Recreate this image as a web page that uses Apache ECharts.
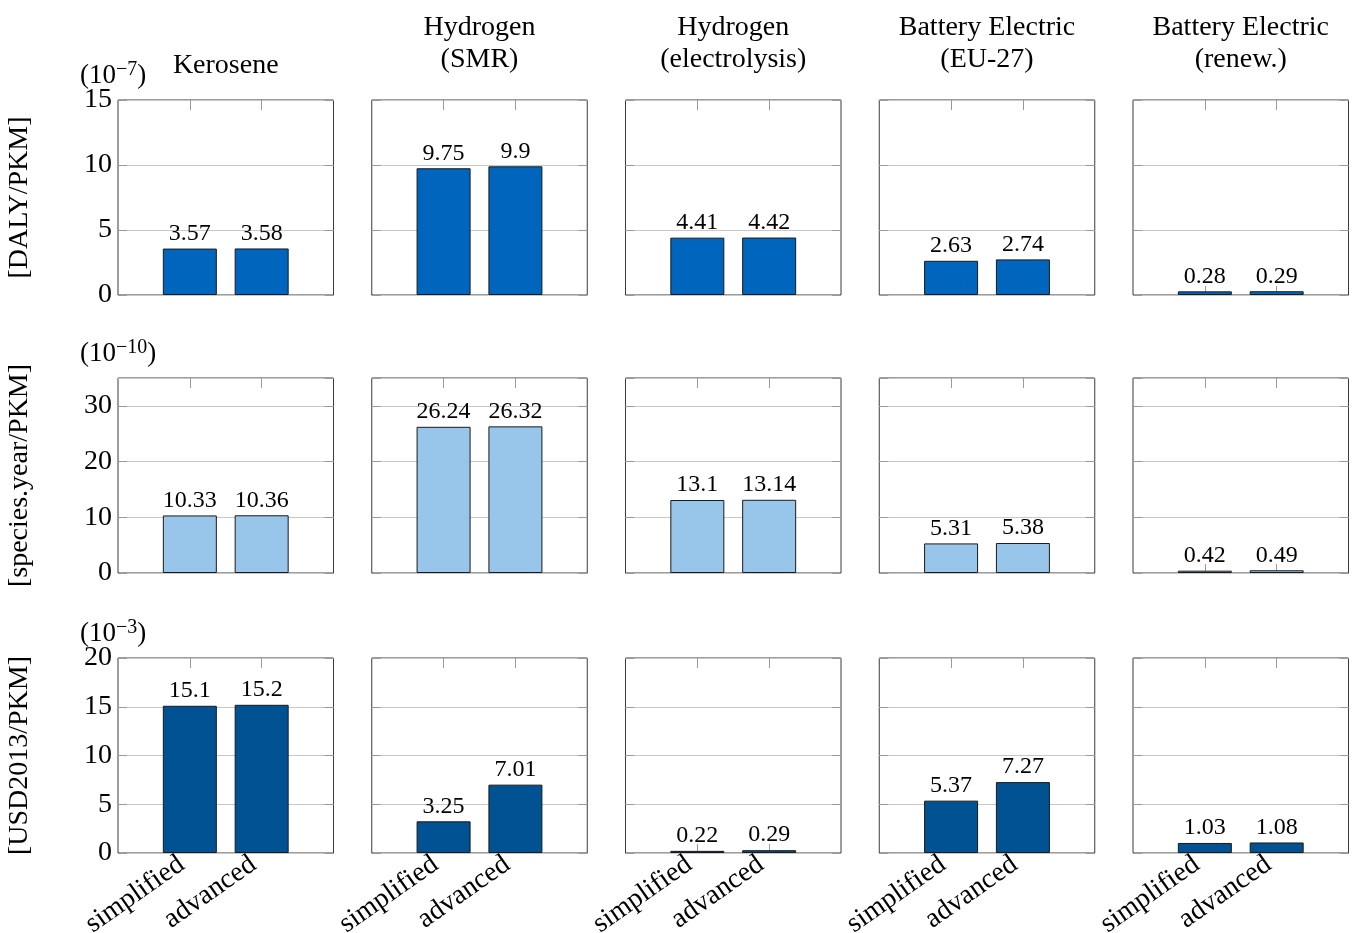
<!DOCTYPE html>
<html>
<head>
<meta charset="utf-8">
<title>Impact per passenger-km by propulsion option</title>
<script src="https://cdn.jsdelivr.net/npm/echarts@6/dist/echarts.min.js"></script>
<style>
  html, body { margin: 0; padding: 0; background: #fff; }
  #chart { width: 1352px; height: 933px; }
</style>
</head>
<body>
<div id="chart"></div>
<script>
// ---- data ----
const methods = ['simplified', 'advanced'];
const options = [
  ['Kerosene'],
  ['Hydrogen', '(SMR)'],
  ['Hydrogen', '(electrolysis)'],
  ['Battery Electric', '(EU-27)'],
  ['Battery Electric', '(renew.)']
];
// human health damage, 10^-7 DALY/PKM
const healthValues = [[3.57, 3.58], [9.75, 9.9], [4.41, 4.42], [2.63, 2.74], [0.28, 0.29]];
// ecosystem damage, 10^-10 species.year/PKM
const ecosystemValues = [[10.33, 10.36], [26.24, 26.32], [13.1, 13.14], [5.31, 5.38], [0.42, 0.49]];
// resource cost, 10^-3 USD2013/PKM
const resourceValues = [[15.1, 15.2], [3.25, 7.01], [0.22, 0.29], [5.37, 7.27], [1.03, 1.08]];

const rowUnits = ['[DALY/PKM]', '[species.year/PKM]', '[USD2013/PKM]'];
const rowExponents = ['\u22127', '\u221210', '\u22123'];
const rowMax = [15, 35, 20];
const rowInterval = [5, 10, 5];
const rowColors = ['#0065BD', '#98C6EA', '#005293'];

// ---- layout ----
const FONT = 'Liberation Serif';
const gridLeft0 = 118, gridStep = 253.75, gridW = 215.5;
const gridTops = [100, 378, 658];
const gridH = 195;

const rows = [healthValues, ecosystemValues, resourceValues];
// padded categories put the two bars at 1/3 and 2/3 of each panel
const cats = [''].concat(methods, ['']);
const innerTick = (i) => i > 0 && i < cats.length - 1;

const grid = [], xAxis = [], yAxis = [], series = [], graphic = [];

rows.forEach((rowVals, r) => {
  rowVals.forEach((vals, c) => {
    const idx = grid.length;
    grid.push({
      left: gridLeft0 + c * gridStep, top: gridTops[r], width: gridW, height: gridH,
      show: true, borderColor: '#3a3a3a', borderWidth: 1,
      containLabel: false, outerBoundsMode: 'none'
    });
    // bottom category axis
    xAxis.push({
      type: 'category', gridIndex: idx, data: cats, boundaryGap: false, position: 'bottom',
      axisLine: { show: false, onZero: false },
      axisTick: { show: true, inside: true, length: 9, interval: innerTick, lineStyle: { color: '#9a9a9a' } },
      axisLabel: {
        show: r === 2, interval: 0, rotate: 35, margin: 3, padding: [0, 10, 0, 0],
        fontFamily: FONT, fontSize: 28, color: '#000'
      },
      splitLine: { show: false }
    });
    // top mirror axis (ticks only)
    xAxis.push({
      type: 'category', gridIndex: idx, data: cats, boundaryGap: false, position: 'top',
      axisLine: { show: false, onZero: false },
      axisTick: { show: true, inside: true, length: 10, interval: innerTick, lineStyle: { color: '#9a9a9a' } },
      axisLabel: { show: false }, splitLine: { show: false }
    });
    const yBase = {
      type: 'value', gridIndex: idx, min: 0, max: rowMax[r], interval: rowInterval[r],
      axisLine: { show: false, onZero: false },
      axisTick: { show: true, inside: true, length: 9, lineStyle: { color: '#9a9a9a' } }
    };
    yAxis.push(Object.assign({}, yBase, {
      position: 'left',
      axisLabel: {
        show: c === 0, margin: 6, fontFamily: FONT, fontSize: 28, color: '#000',
        showMaxLabel: rowMax[r] % rowInterval[r] === 0
      },
      splitLine: { show: true, lineStyle: { color: '#c8c8c8', width: 1 } }
    }));
    yAxis.push(Object.assign({}, yBase, {
      position: 'right', axisLabel: { show: false }, splitLine: { show: false }
    }));
    series.push({
      type: 'bar', xAxisIndex: 2 * idx, yAxisIndex: 2 * idx,
      data: ['-'].concat(vals, ['-']),
      barWidth: 54,
      itemStyle: { color: rowColors[r], borderColor: '#1a1a1a', borderWidth: 1 },
      label: {
        show: true, position: 'top', distance: 3,
        fontFamily: FONT, fontSize: 24, color: '#000'
      },
      silent: true, animation: false
    });
  });

  // unit name along the left edge
  graphic.push({
    type: 'text', x: 20, y: gridTops[r] + gridH / 2, rotation: Math.PI / 2,
    style: {
      text: rowUnits[r], fontFamily: FONT, fontSize: 28, fill: '#000',
      align: 'center', verticalAlign: 'middle'
    }
  });
  // power-of-ten multiplier above the first panel
  graphic.push({
    type: 'text', x: 80, y: gridTops[r] - 8,
    style: {
      text: '{a|(10}{b|' + rowExponents[r] + '}{a|)}',
      align: 'left', verticalAlign: 'bottom',
      rich: {
        a: { fontFamily: FONT, fontSize: 27, fill: '#000', lineHeight: 32 },
        b: { fontFamily: FONT, fontSize: 20, fill: '#000', lineHeight: 32, padding: [0, 0, 12, 0] }
      }
    }
  });
});

// column headings
options.forEach((lines, c) => {
  const cx = gridLeft0 + c * gridStep + gridW / 2;
  graphic.push({
    type: 'text', x: cx, y: lines.length === 1 ? 66 : 44,
    style: {
      text: lines.join('\n'), fontFamily: FONT, fontSize: 28, fill: '#000',
      align: 'center', verticalAlign: 'middle', lineHeight: 32
    }
  });
});

const chart = echarts.init(document.getElementById('chart'), null, { renderer: 'canvas' });
chart.setOption({
  backgroundColor: '#fff',
  animation: false,
  grid, xAxis, yAxis, series, graphic
});
</script>
</body>
</html>
